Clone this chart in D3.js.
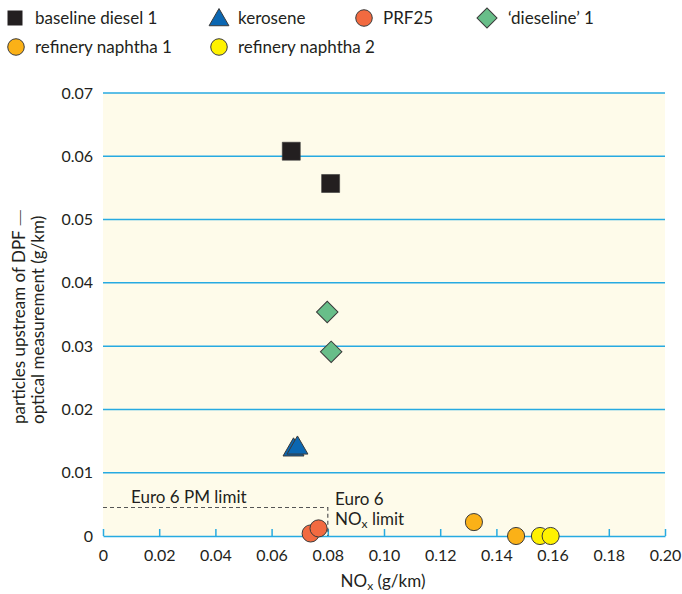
<!DOCTYPE html>
<html><head><meta charset="utf-8">
<script src="https://cdn.jsdelivr.net/npm/d3@7"></script>
<style>body{margin:0;background:#fff}svg{display:block}text{font-family:Lato,sans-serif;fill:#231f20}</style>
</head><body><svg id="c" width="682" height="594"></svg>
<script>
const seriesNames = ["baseline diesel 1","kerosene","PRF25","\u2018dieseline\u2019 1","refinery naphtha 1","refinery naphtha 2"];
const baselineDiesel = [[0.067,0.0608],[0.081,0.0557]];
const kerosene = [[0.0678,0.0136],[0.0692,0.0139]];
const prf25 = [[0.0739,0.0004],[0.0767,0.0012]];
const dieseline = [[0.0798,0.0354],[0.0812,0.0291]];
const naphtha1 = [[0.132,0.0022],[0.147,0.0]];
const naphtha2 = [[0.1555,0.0],[0.1593,0.0]];
const xTicks = [0,0.02,0.04,0.06,0.08,0.10,0.12,0.14,0.16,0.18,0.20];
const xTickLabels = ["0","0.02","0.04","0.06","0.08","0.10","0.12","0.14","0.16","0.18","0.20"];
const yTicks = [0,0.01,0.02,0.03,0.04,0.05,0.06,0.07];
const yTickLabels = ["0","0.01","0.02","0.03","0.04","0.05","0.06","0.07"];
const pmLimit = 0.0045, noxLimit = 0.08;

const FS = 17, TS = 16;
const svg = d3.select("#c");
const x = d3.scaleLinear().domain([0,0.2]).range([103,665]);
const y = d3.scaleLinear().domain([0,0.07]).range([536,93]);
const blue = "#27aae1";

svg.append("rect").attr("x",x(0)).attr("y",y(0.07)).attr("width",x(0.2)-x(0)).attr("height",y(0)-y(0.07)).attr("fill","#fefbea");

svg.append("g").selectAll("line").data(yTicks.slice(1)).join("line")
  .attr("x1",x(0)).attr("x2",x(0.2)).attr("y1",d=>y(d)).attr("y2",d=>y(d))
  .attr("stroke",blue).attr("stroke-width",1.5);

const xa = svg.append("g").attr("transform",`translate(0,${y(0)})`)
  .call(d3.axisBottom(x).tickValues(xTicks).tickFormat((d,i)=>xTickLabels[i]).tickSizeInner(-7).tickSizeOuter(0).tickPadding(12));
xa.select(".domain").attr("stroke",blue).attr("stroke-width",1.5);
xa.selectAll(".tick line").attr("stroke",blue).attr("stroke-width",1.5);
xa.selectAll(".tick text").attr("font-size",TS).attr("font-family","Lato").attr("fill","#231f20")
  .attr("y",25).attr("dy",0);

const ya = svg.append("g").attr("transform",`translate(${x(0)},0)`)
  .call(d3.axisLeft(y).tickValues(yTicks).tickFormat((d,i)=>yTickLabels[i]).tickSize(0).tickPadding(10));
ya.select(".domain").remove();
ya.selectAll(".tick text").attr("font-size",TS).attr("font-family","Lato").attr("fill","#231f20");

svg.append("path")
  .attr("d",`M${x(0)},${y(pmLimit)}H${x(noxLimit)}V${y(0)}`)
  .attr("fill","none").attr("stroke","#555").attr("stroke-width",1.2).attr("stroke-dasharray","4,3");
svg.append("text").attr("x",131).attr("y",503).attr("font-size",FS).text("Euro 6 PM limit");
svg.append("text").attr("x",335).attr("y",505).attr("font-size",FS).text("Euro 6");
const nl = svg.append("text").attr("x",335).attr("y",525).attr("font-size",FS);
nl.append("tspan").text("NO");
nl.append("tspan").attr("font-size",12).attr("dy",3).text("x");
nl.append("tspan").attr("dy",-3).text(" limit");

const xt = svg.append("text").attr("x",383).attr("y",587).attr("text-anchor","middle").attr("font-size",FS);
xt.append("tspan").text("NO");
xt.append("tspan").attr("font-size",12).attr("dy",3).text("x");
xt.append("tspan").attr("dy",-3).text(" (g/km)");
const yt = svg.append("text").attr("transform","translate(25,424) rotate(-90)").attr("text-anchor","start").attr("font-size",FS);
yt.append("tspan").attr("x",0).attr("dy",0).text("particles upstream of DPF ");
yt.append("tspan").attr("font-family","DejaVu Sans").attr("font-weight","300").text("\u2014");
yt.append("tspan").attr("x",0).attr("dy",19).text("optical measurement (g/km)");

const stroke = "#3a3a3a";
const sym = {
  square: d3.symbol().type(d3.symbolSquare).size(324),
  triangle: d3.symbol().type(d3.symbolTriangle).size(190),
  circle: d3.symbol().type(d3.symbolCircle).size(230),
  diamond: d3.symbol().type(d3.symbolSquare).size(230)
};
const series = [
  {data:baselineDiesel, shape:"square", color:"#231f20", rot:0},
  {data:kerosene, shape:"triangle", color:"#0b67b2", rot:0},
  {data:prf25, shape:"circle", color:"#f26a40", rot:0},
  {data:dieseline, shape:"diamond", color:"#68be89", rot:45},
  {data:naphtha1, shape:"circle", color:"#fbb117", rot:0},
  {data:naphtha2, shape:"circle", color:"#fff200", rot:0}
];
series.forEach(s=>{
  svg.append("g").selectAll("path").data(s.data).join("path")
    .attr("d",sym[s.shape]())
    .attr("transform",d=>`translate(${x(d[0])},${y(d[1])}) rotate(${s.rot})`)
    .attr("fill",s.color).attr("stroke",stroke).attr("stroke-width",s.shape==="square"?0.6:1);
});

const legPos = [[15,18,35],[219,18,238],[364,18,383],[487,18,508],[16,47,35],[219,47,238]];
const legSym = {
  square: d3.symbol().type(d3.symbolSquare).size(225),
  triangle: d3.symbol().type(d3.symbolTriangle).size(170),
  circle: d3.symbol().type(d3.symbolCircle).size(215),
  diamond: d3.symbol().type(d3.symbolSquare).size(200)
};
series.forEach((s,i)=>{
  const [mx,my,tx] = legPos[i];
  svg.append("path").attr("d",legSym[s.shape]())
    .attr("transform",`translate(${mx},${my+(s.shape==="triangle"?2:0)}) rotate(${s.rot})`)
    .attr("fill",s.color).attr("stroke",stroke).attr("stroke-width",s.shape==="square"?0:1);
  svg.append("text").attr("x",tx).attr("y",my+6).attr("font-size",FS).text(seriesNames[i]);
});
</script></body></html>
